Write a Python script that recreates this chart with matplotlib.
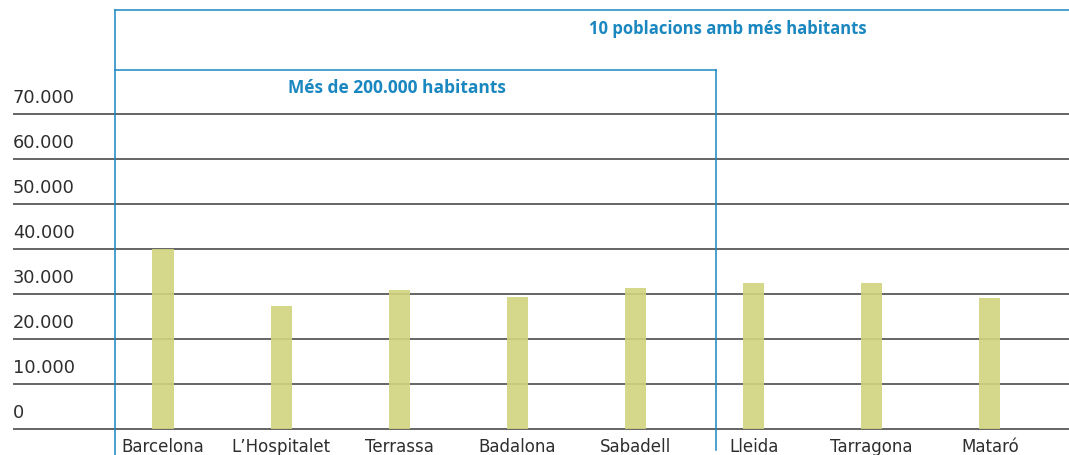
import matplotlib
matplotlib.use("Agg")
import matplotlib.pyplot as plt
import matplotlib.transforms as mtransforms

# data
cities = ["Barcelona", "L\u2019Hospitalet", "Terrassa", "Badalona", "Sabadell",
          "Lleida", "Tarragona", "Matar\u00f3"]
values = [40000, 27300, 30800, 29300, 31300, 32400, 32400, 29100]
y_ticks = [0, 10000, 20000, 30000, 40000, 50000, 60000, 70000]
y_labels = ["0", "10.000", "20.000", "30.000", "40.000", "50.000", "60.000", "70.000"]
title_all = "10 poblacions amb m\u00e9s habitants"
title_big = "M\u00e9s de 200.000 habitants"

BLUE = "#1a87c0"
BAR = "#d1d47e"
GRID = "#3c3c3c"
TXT = "#2e2e2e"

plt.rcParams["font.family"] = ["DejaVu Sans"]

W, H = 1069, 455
fig = plt.figure(figsize=(W / 100, H / 100), dpi=100)
ax = fig.add_axes([13 / W, 0, 1 - 13 / W, 1])

x = list(range(len(cities)))
ax.bar(x, values, width=0.18, color=BAR, alpha=0.9, zorder=3)

ax.set_xlim(-1.27, 7.67)
ax.set_ylim(-5700, 95200)

# y labels sit just above their grid line, left aligned
ax.set_yticks(y_ticks)
ax.set_yticklabels(y_labels)
ax.grid(axis="y", color=GRID, linewidth=1.1, zorder=1)
ax.tick_params(axis="y", length=0, pad=0, labelsize=12.8, labelcolor=TXT)
up = mtransforms.ScaledTranslation(0, 7 / 100, fig.dpi_scale_trans)
for lab in ax.get_yticklabels():
    lab.set_horizontalalignment("left")
    lab.set_verticalalignment("bottom")
    lab.set_transform(lab.get_transform() + up)

# city names just under the zero line
ax.set_xticks(x)
ax.set_xticklabels(cities)
ax.tick_params(axis="x", length=0, pad=0, labelsize=12, labelcolor=TXT)
lift = mtransforms.ScaledTranslation(0, 17 / 100, fig.dpi_scale_trans)
for lab in ax.get_xticklabels():
    lab.set_verticalalignment("top")
    lab.set_transform(lab.get_transform() + lift)

for s in ax.spines.values():
    s.set_visible(False)

# group boxes
bt = mtransforms.blended_transform_factory(ax.transData, ax.transAxes)
left, split = -0.41, 4.68
top_all, top_big = 1 - 10 / H, 1 - 70 / H
kw = dict(color=BLUE, lw=1.1, transform=bt, clip_on=False, zorder=4)
ax.plot([left, left], [0, top_all], **kw)
ax.plot([left, 8], [top_all, top_all], **kw)
ax.plot([left, split], [top_big, top_big], **kw)
ax.plot([split, split], [0.01, top_big], **kw)

ax.text(4.78, 1 - 29 / H, title_all, transform=bt, color=BLUE, fontsize=12,
        fontweight="bold", family="Open Sans", ha="center", va="center")
ax.text(1.98, 1 - 88 / H, title_big, transform=bt, color=BLUE, fontsize=12.5,
        fontweight="bold", family="Open Sans", ha="center", va="center")

fig.savefig("out.png", dpi=100)
